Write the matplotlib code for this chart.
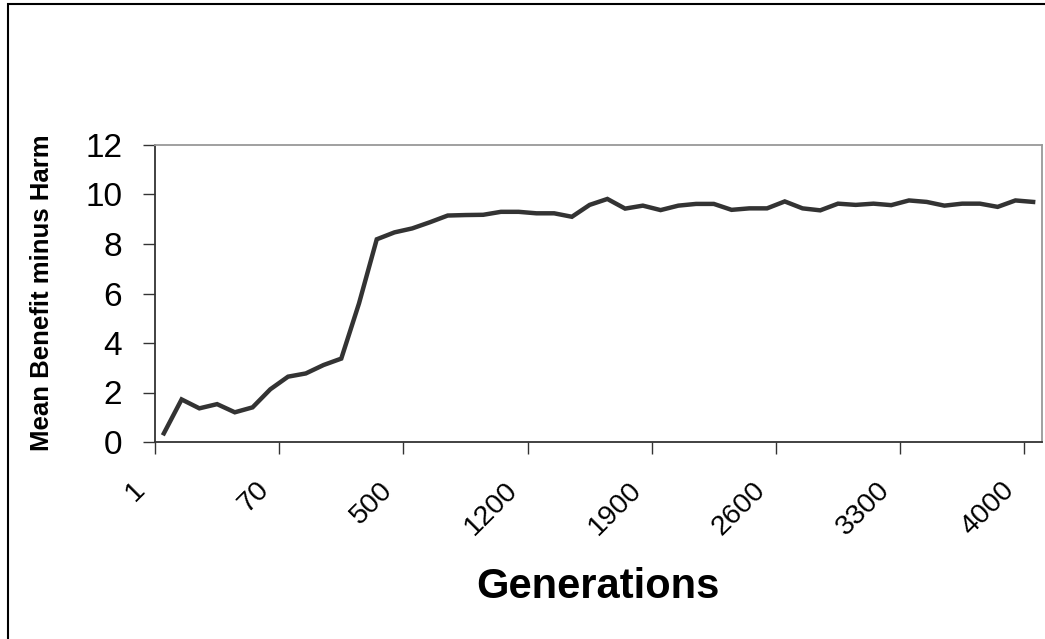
import matplotlib
matplotlib.use("Agg")
import matplotlib.pyplot as plt
import matplotlib.transforms as mtransforms
from matplotlib.patches import Rectangle

plt.rcParams['font.family'] = ['Liberation Sans', 'DejaVu Sans']

# generations (category axis) and mean benefit minus harm
generations = [1, 10, 20, 30, 40, 50, 60, 70, 80, 90] + list(range(100, 4001, 100))
mean_bmh = [0.35, 1.72, 1.36, 1.53, 1.20, 1.40, 2.13, 2.64, 2.77, 3.11,
            3.37, 5.60, 8.19, 8.47, 8.63, 8.88, 9.15, 9.17, 9.18, 9.30,
            9.30, 9.24, 9.24, 9.10, 9.58, 9.82, 9.43, 9.55, 9.37, 9.55,
            9.62, 9.62, 9.38, 9.44, 9.44, 9.72, 9.44, 9.36, 9.63, 9.58,
            9.63, 9.57, 9.76, 9.70, 9.55, 9.63, 9.63, 9.50, 9.76, 9.70]
label_every = 7
yticks = [0, 2, 4, 6, 8, 10, 12]

fig = plt.figure(figsize=(10.45, 6.39), dpi=100)
# outer chart border
fig.patches.append(Rectangle((8 / 1045, -0.05), 1.1, 1.05 - 4 / 639, transform=fig.transFigure,
                             fill=False, edgecolor='black', linewidth=1.5))
ax = fig.add_axes([155 / 1045, 197 / 639, 887 / 1045, 297 / 639])

x = list(range(len(generations)))
ax.plot(x, mean_bmh, color='#333333', linewidth=3.2, solid_joinstyle='miter')

ax.set_xlim(-0.5, len(generations) - 0.5)
ax.set_ylim(0, 12)
ax.set_yticks(yticks)
ax.set_yticklabels([str(v) for v in yticks])

# tick marks between categories, labels on the categories
ax.set_xticks([i - 0.5 for i in range(0, len(generations), label_every)])
ax.set_xticklabels([])
ax.set_xticks(list(range(0, len(generations), label_every)), minor=True)
ax.set_xticklabels([str(generations[i]) for i in range(0, len(generations), label_every)],
                   minor=True, rotation=45, ha='right', fontsize=20.5)
ax.tick_params(axis='x', which='major', direction='out', length=8.5, width=1, color='#333333')
ax.tick_params(axis='x', which='minor', length=0, pad=25)
ax.tick_params(axis='y', direction='out', length=8.5, width=1, color='#333333',
               labelsize=24, pad=15)

offset = mtransforms.ScaledTranslation(-14 / 100, 0, fig.dpi_scale_trans)
for lab in ax.get_xticklabels(minor=True):
    lab.set_transform(lab.get_transform() + offset)

for s in ['left', 'bottom']:
    ax.spines[s].set_color('#333333')
    ax.spines[s].set_linewidth(1.3)
for s in ['top', 'right']:
    ax.spines[s].set_color('#999999')
    ax.spines[s].set_linewidth(1.3)

fig.text(42 / 1045, 1 - 293 / 639, 'Mean Benefit minus Harm', rotation=90,
         ha='center', va='center', fontsize=18.5, fontweight='bold')
fig.text(598 / 1045, 1 - 587 / 639, 'Generations', ha='center', va='center',
         fontsize=30, fontweight='bold')

fig.savefig('out.png', dpi=100)
